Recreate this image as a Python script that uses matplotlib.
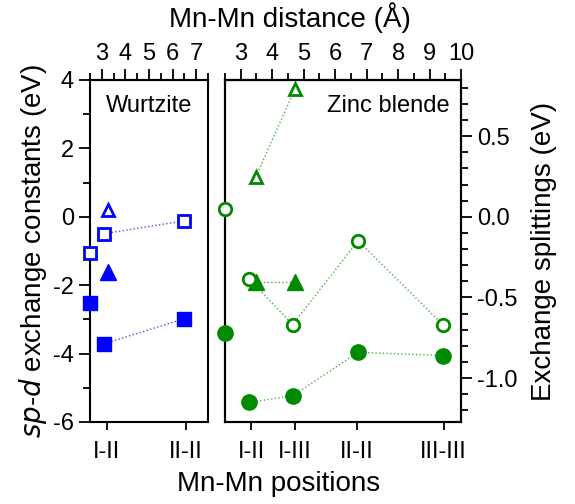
import matplotlib.pyplot as plt
from matplotlib.ticker import MultipleLocator, FormatStrFormatter

plt.rcParams['font.family'] = ['Liberation Sans', 'DejaVu Sans']
plt.rcParams['axes.unicode_minus'] = False

# Wurtzite (left panel), x = Mn-Mn distance (A), y = sp-d exchange constants (eV)
wz_pos = ['I-II', 'II-II']
wz_pos_x = [3.21, 6.57]
wz_sq_x = [3.11, 6.5]
wz_open_sq = [-0.49, -0.12]
wz_fill_sq = [-3.71, -2.98]
wz_edge_open_sq = -1.07
wz_edge_fill_sq = -2.53
wz_tri_x = 3.28
wz_open_tri = 0.2
wz_fill_tri = -1.62

# Zinc blende (right panel)
zb_pos = ['I-II', 'I-III', 'II-II', 'III-III']
zb_pos_x = [3.34, 4.72, 6.68, 9.45]
zb_circ_x = [3.27, 4.65, 6.73, 9.42]
zb_open_circ = [-0.385, -0.668, -0.148, -0.668]   # exchange splittings (eV)
zb_fill_circ = [-1.15, -1.11, -0.84, -0.86]
zb_edge_open_circ = 0.05
zb_edge_fill_circ = -0.72
zb_tri_x = [3.48, 4.73]
zb_open_tri = [1.17, 3.75]                         # sp-d constants (eV)
zb_fill_tri = [-1.9, -1.9]

k = 0.212  # splitting axis scale vs constants axis
blue = '#0000ff'
green = '#008a00'
fs = 17
lfs = 20

fig = plt.figure(figsize=(5.75, 5.04), dpi=100)
ax1 = fig.add_axes([90/575, 1-422/504, 118/575, 342/504])
ax2 = fig.add_axes([225/575, 1-422/504, 236/575, 342/504])
ax2r = ax2.twinx()

ms = 10
mew = 2

# left panel
ax1.plot(wz_sq_x, wz_open_sq, ':', color=blue, lw=1, alpha=0.7)
ax1.plot(wz_sq_x, wz_fill_sq, ':', color=blue, lw=1, alpha=0.7)
ax1.plot(wz_sq_x, wz_open_sq, 's', ms=ms - 1, mfc='white', mec=blue, mew=mew, clip_on=False)
ax1.plot([2.5], [wz_edge_open_sq], 's', ms=ms - 1, mfc='white', mec=blue, mew=mew, clip_on=False, zorder=5)
ax1.plot(wz_sq_x, wz_fill_sq, 's', ms=ms, color=blue, clip_on=False)
ax1.plot([2.5], [wz_edge_fill_sq], 's', ms=ms, color=blue, clip_on=False, zorder=5)
ax1.plot([wz_tri_x], [wz_open_tri], '^', ms=ms - 1, mfc='white', mec=blue, mew=mew)
ax1.plot([wz_tri_x], [wz_fill_tri], '^', ms=ms + 1, color=blue)

ax1.set_xlim(2.5, 7.5)
ax1.set_ylim(-6, 4)
ax1.set_xticks(wz_pos_x)
ax1.set_xticklabels(wz_pos)
ax1.yaxis.set_major_locator(MultipleLocator(2))
ax1.yaxis.set_minor_locator(MultipleLocator(1))
ax1.set_ylabel(r'$\mathit{sp}$-$\mathit{d}$ exchange constants (eV)', fontsize=lfs, labelpad=3)
ax1.text(0.5, 0.955, 'Wurtzite', transform=ax1.transAxes, ha='center', va='top', fontsize=fs)

# right panel
ax2.plot(zb_tri_x, zb_open_tri, ':', color=green, lw=1, alpha=0.7)
ax2.plot(zb_tri_x, zb_fill_tri, ':', color=green, lw=1, alpha=0.7)
ax2.plot(zb_tri_x, zb_open_tri, '^', ms=ms - 1, mfc='white', mec=green, mew=mew)
ax2.plot(zb_tri_x, zb_fill_tri, '^', ms=ms + 1, color=green)
ax2.set_xlim(2.5, 10)
ax2.set_ylim(-6, 4)
ax2.set_xticks(zb_pos_x)
ax2.set_xticklabels(zb_pos)
ax2.set_yticks([])
ax2.text(0.95, 0.955, 'Zinc blende', transform=ax2.transAxes, ha='right', va='top', fontsize=fs)

ax2r.plot(zb_circ_x, zb_open_circ, ':', color=green, lw=1, alpha=0.7)
ax2r.plot(zb_circ_x, zb_fill_circ, ':', color=green, lw=1, alpha=0.7)
ax2r.plot(zb_circ_x, zb_open_circ, 'o', ms=ms - 1, mfc='white', mec=green, mew=mew)
ax2r.plot(zb_circ_x, zb_fill_circ, 'o', ms=ms + 1, color=green)
ax2r.plot([2.5], [zb_edge_open_circ], 'o', ms=ms - 1, mfc='white', mec=green, mew=mew, clip_on=False, zorder=5)
ax2r.plot([2.5], [zb_edge_fill_circ], 'o', ms=ms + 1, color=green, clip_on=False, zorder=5)
ax2r.set_ylim(-6 * k, 4 * k)
ax2r.yaxis.set_major_locator(MultipleLocator(0.5))
ax2r.yaxis.set_minor_locator(MultipleLocator(0.1))
ax2r.yaxis.set_major_formatter(FormatStrFormatter('%.1f'))
ax2r.set_ylabel('Exchange splittings (eV)', fontsize=lfs, labelpad=10)

# top distance axes
for ax, hi in [(ax1, 7), (ax2, 10)]:
    top = ax.secondary_xaxis('top')
    top.set_xticks(range(3, hi + 1))
    top.xaxis.set_minor_locator(MultipleLocator(0.5))
    top.tick_params(which='major', length=8, width=1.3, labelsize=fs, pad=3)
    top.tick_params(which='minor', length=5, width=1.3)
    top.spines['top'].set_linewidth(1.5)

for ax in [ax1, ax2, ax2r]:
    for s in ax.spines.values():
        s.set_linewidth(1.5)
    ax.tick_params(which='major', length=8, width=1.3, labelsize=fs)
    ax.tick_params(which='minor', length=5, width=1.3)
    ax.tick_params(axis='x', length=6, pad=8)

fig.text(0.505, 0.995, 'Mn-Mn distance (Å)', ha='center', va='top', fontsize=lfs)
fig.text(0.485, 0.04, 'Mn-Mn positions', ha='center', va='center', fontsize=lfs)

fig.savefig('out.png', dpi=100)
